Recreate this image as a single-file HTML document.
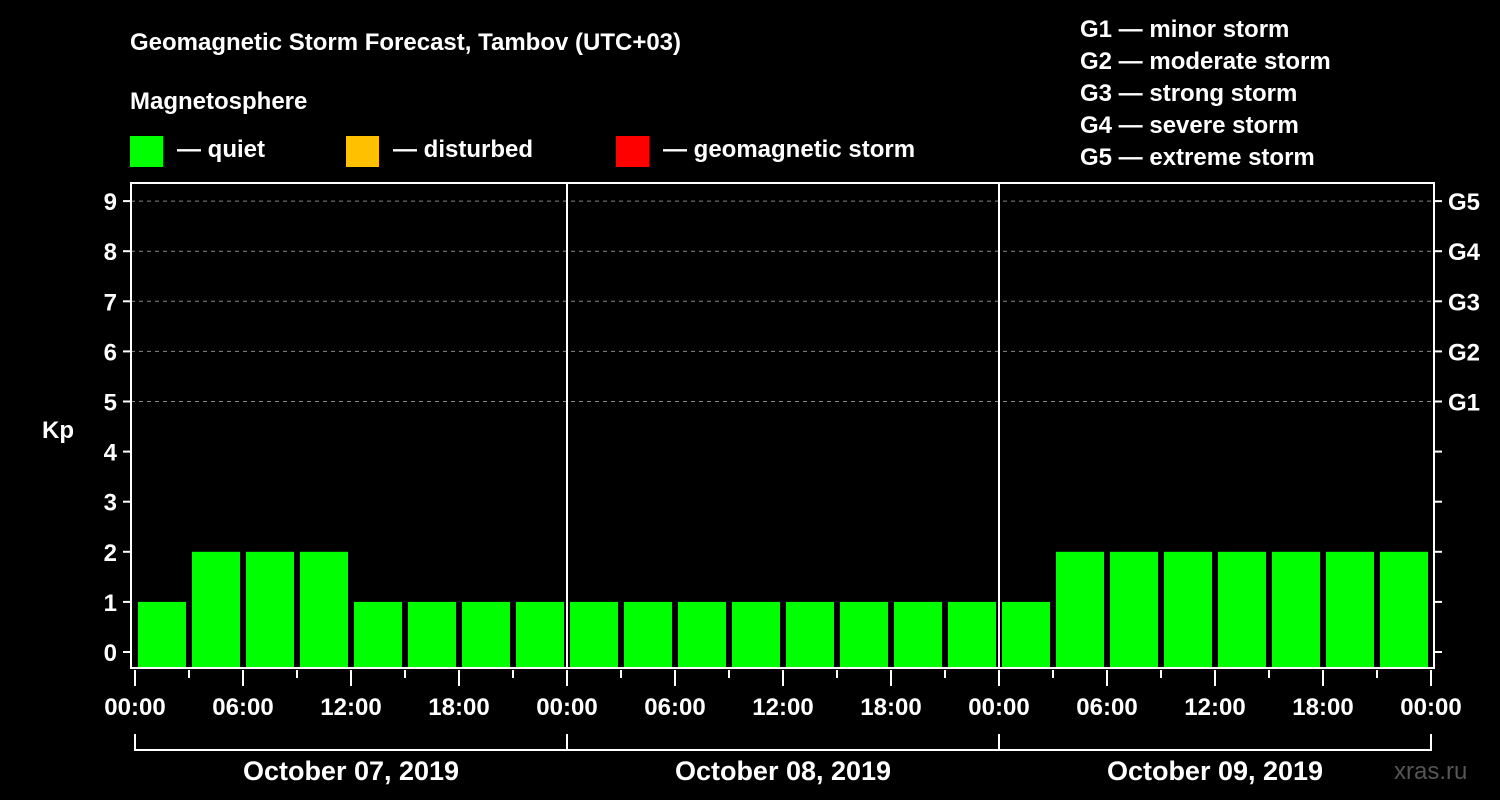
<!DOCTYPE html>
<html><head><meta charset="utf-8"><style>
html,body{margin:0;padding:0;background:#000;}
svg{display:block;font-family:"Liberation Sans",sans-serif;font-weight:bold;}
</style></head><body>
<svg id="c" width="1500" height="800" viewBox="0 0 1500 800">
<text x="130" y="50" font-size="24" fill="#fff">Geomagnetic Storm Forecast, Tambov (UTC+03)</text>
<text x="130" y="109" font-size="24" fill="#fff">Magnetosphere</text>
<g><rect x="130" y="136" width="33" height="31" fill="#00ff00"/><text x="177" y="157" font-size="24" fill="#fff">— quiet</text></g>
<g><rect x="346" y="136" width="33" height="31" fill="#ffc000"/><text x="393" y="157" font-size="24" fill="#fff">— disturbed</text></g>
<g><rect x="616" y="136" width="33" height="31" fill="#ff0000"/><text x="663" y="157" font-size="24" fill="#fff">— geomagnetic storm</text></g>
<g font-size="24" fill="#fff">
<text x="1080" y="37">G1 — minor storm</text>
<text x="1080" y="69">G2 — moderate storm</text>
<text x="1080" y="101">G3 — strong storm</text>
<text x="1080" y="133">G4 — severe storm</text>
<text x="1080" y="165">G5 — extreme storm</text>
</g>
<text x="42" y="438" font-size="24" fill="#fff">Kp</text>
<text x="1394" y="779" font-size="24" fill="#555" font-weight="normal">xras.ru</text>
<g id="grid"></g><g id="bars"></g><g id="axes"></g>
</svg>
<script>
const kpValues=[1,2,2,2,1,1,1,1, 1,1,1,1,1,1,1,1, 1,2,2,2,2,2,2,2];
const yTicks=[0,1,2,3,4,5,6,7,8,9];
const gLabels=["G1","G2","G3","G4","G5"];
const gLevels=[5,6,7,8,9];
const timeLabels=["00:00","06:00","12:00","18:00"];
const dayLabels=["October 07, 2019","October 08, 2019","October 09, 2019"];
const NS="http://www.w3.org/2000/svg";
const X0=135,H3=54,L=131,R=1434,T=183,B=668;
function y(k){return 652-50.1*k;}
function x(i){return X0+H3*i;}
function mk(p,tag,a){const e=document.createElementNS(NS,tag);for(const k in a)e.setAttribute(k,a[k]);p.appendChild(e);return e;}
const grid=document.getElementById('grid'),bars=document.getElementById('bars'),axes=document.getElementById('axes');
gLevels.forEach((k,i)=>{
 const l=mk(grid,'line',{x1:L,x2:R,y1:y(k),y2:y(k),stroke:'#888','stroke-dasharray':'4,4'});
 
 
 const t=mk(axes,'text',{x:1448,y:y(k)+9,'font-size':24,fill:'#fff'});t.textContent=gLabels[i];
 
 
});
kpValues.forEach((v,i)=>{
 const r=mk(bars,'rect',{x:x(i)+3,y:y(v),width:48,height:B-y(v),fill:'#00ff00'});
 
 
});
// frame
mk(axes,'path',{d:`M${L} ${T}H${R}V${B}H${L}Z`,fill:'none',stroke:'#fff','stroke-width':2});
for(let d=1;d<3;d++)mk(axes,'line',{x1:x(8*d),x2:x(8*d),y1:T,y2:B,stroke:'#fff','stroke-width':2});
yTicks.forEach(k=>{
 mk(axes,'line',{x1:L-8,x2:L,y1:y(k),y2:y(k),stroke:'#fff','stroke-width':2});
 mk(axes,'line',{x1:R,x2:R+8,y1:y(k),y2:y(k),stroke:'#fff','stroke-width':2});
 const t=mk(axes,'text',{x:L-14,y:y(k)+9,'font-size':24,fill:'#fff','text-anchor':'end'});t.textContent=k;
 
 
});
for(let i=0;i<=kpValues.length;i++){
 const major=i%2===0;
 mk(axes,'line',{x1:x(i),x2:x(i),y1:B+2,y2:major?B+18:B+10,stroke:'#fff','stroke-width':2});
 if(major){const t=mk(axes,'text',{x:x(i),y:715,'font-size':24,fill:'#fff','text-anchor':'middle'});t.textContent=timeLabels[(i/2)%4];
 
 }
}
dayLabels.forEach((s,d)=>{
 mk(axes,'path',{d:`M${x(8*d)} 734V750H${x(8*d+8)}V734`,fill:'none',stroke:'#fff','stroke-width':2});
 const t=mk(axes,'text',{x:(x(8*d)+x(8*d+8))/2,y:780,'font-size':27,fill:'#fff','text-anchor':'middle'});t.textContent=s;
 
 
});
</script>
</body></html>
